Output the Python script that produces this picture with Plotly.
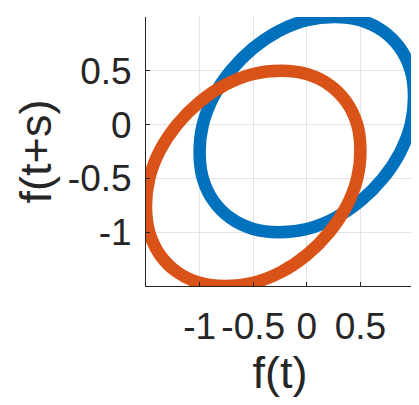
import plotly.graph_objects as go

# Blue curve: f(t) vs f(t+s)
blue_x = [1.00, 0.97, 0.87, 0.71, 0.50, 0.26, 0.00, -0.26, -0.50, -0.71, -0.87, -0.97,
          -1.00, -0.97, -0.87, -0.71, -0.50, -0.26, 0.00, 0.26, 0.50, 0.71, 0.87, 0.97, 1.00]
blue_y = [0.26, 0.50, 0.71, 0.87, 0.97, 1.00, 0.97, 0.87, 0.71, 0.50, 0.26, 0.00,
          -0.26, -0.50, -0.71, -0.87, -0.97, -1.00, -0.97, -0.87, -0.71, -0.50, -0.26, 0.00, 0.26]

# Orange curve (shifted down-left)
orange_x = [0.50, 0.47, 0.37, 0.21, 0.00, -0.24, -0.50, -0.76, -1.00, -1.21, -1.37, -1.47,
            -1.50, -1.47, -1.37, -1.21, -1.00, -0.76, -0.50, -0.24, 0.00, 0.21, 0.37, 0.47, 0.50]
orange_y = [-0.24, 0.00, 0.21, 0.37, 0.47, 0.50, 0.47, 0.37, 0.21, 0.00, -0.24, -0.50,
            -0.76, -1.00, -1.21, -1.37, -1.47, -1.50, -1.47, -1.37, -1.21, -1.00, -0.76, -0.50, -0.24]

x_ticks = [-1, -0.5, 0, 0.5]
x_tick_labels = ["-1", "-0.5", "0", "0.5"]
y_ticks = [-1, -0.5, 0, 0.5]
y_tick_labels = ["-1", "-0.5", "0", "0.5"]

fig = go.Figure()
fig.add_trace(go.Scatter(x=blue_x, y=blue_y, mode="lines",
                         line=dict(color="#0072BD", width=12.5, shape="spline", smoothing=1.0),
                         showlegend=False, hoverinfo="skip"))
fig.add_trace(go.Scatter(x=orange_x, y=orange_y, mode="lines",
                         line=dict(color="#D95319", width=12.5, shape="spline", smoothing=1.0),
                         showlegend=False, hoverinfo="skip"))

font_family = "Liberation Sans, Arial, sans-serif"
axis_common = dict(
    showgrid=True, gridcolor="#e3e3e3", gridwidth=1,
    zeroline=False, showline=True, linecolor="#262626", linewidth=1,
    ticks="inside", ticklen=4, tickcolor="#262626",
    tickfont=dict(family=font_family, size=37, color="#262626"),
    tickangle=0,
)

fig.update_layout(
    width=411, height=397,
    margin=dict(l=138, r=5, t=9, b=119),
    paper_bgcolor="white", plot_bgcolor="white",
    xaxis=dict(range=[-1.5, 1.0], tickvals=x_ticks, ticktext=x_tick_labels,
               title=dict(text="f(t)", font=dict(family=font_family, size=45, color="#262626"), standoff=9),
               ticklabelstandoff=8,
               **axis_common),
    yaxis=dict(range=[-1.5, 1.0], tickvals=y_ticks, ticktext=y_tick_labels,
               title=dict(text="f(t+s)", font=dict(family=font_family, size=45, color="#262626"), standoff=2),
               ticklabelstandoff=6,
               **axis_common),
)

fig.write_html("out.html")
